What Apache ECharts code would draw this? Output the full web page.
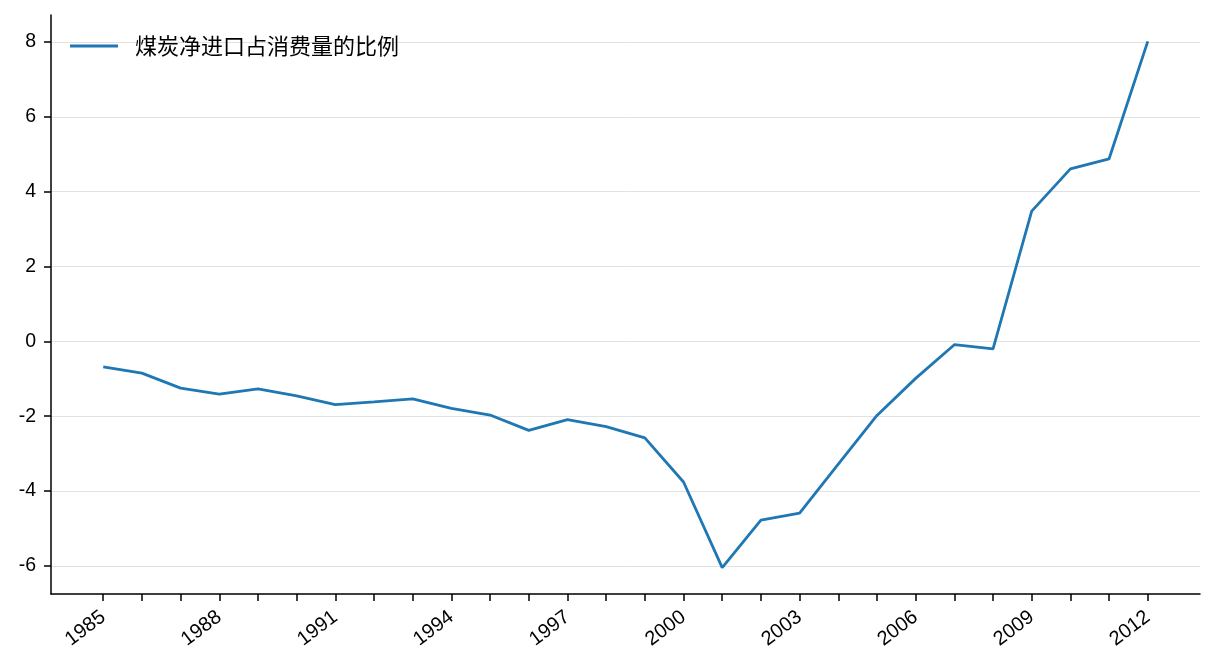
<!DOCTYPE html>
<html>
<head>
<meta charset="utf-8">
<script src="https://cdn.jsdelivr.net/npm/echarts@6/dist/echarts.min.js"></script>
<style>
  html, body { margin: 0; padding: 0; background: #fff; }
  #main { width: 1216px; height: 672px; }
</style>
</head>
<body>
<div id="main"></div>
<script>
// data
var seriesName = '煤炭净进口占消费量的比例';
var years = [1985, 1986, 1987, 1988, 1989, 1990, 1991, 1992, 1993, 1994,
             1995, 1996, 1997, 1998, 1999, 2000, 2001, 2002, 2003, 2004,
             2005, 2006, 2007, 2008, 2009, 2010, 2011, 2012];
var ratio = [-0.68, -0.85, -1.25, -1.41, -1.27, -1.46, -1.69, -1.62, -1.54, -1.79,
             -1.97, -2.38, -2.09, -2.28, -2.58, -3.76, -6.05, -4.78, -4.59, -3.28,
             -1.98, -0.99, -0.09, -0.20, 3.48, 4.61, 4.88, 8.02];
var xLabelYears = [1985, 1988, 1991, 1994, 1997, 2000, 2003, 2006, 2009, 2012];
var yTicks = [-6, -4, -2, 0, 2, 4, 6, 8];

var font = '"Liberation Sans", Arial, "Noto Sans CJK SC", sans-serif';

function Chart(divId) {
	var myChart = echarts.init(document.getElementById(divId));
	var points = [];
	for (var i = 0; i < years.length; i++) {
		points.push([years[i], ratio[i]]);
	}

	// matplotlib style 5% margins
	var xPad = (years[years.length - 1] - years[0]) * 0.05;
	var yMin = Math.min.apply(null, ratio), yMax = Math.max.apply(null, ratio);
	var yPad = (yMax - yMin) * 0.05;

	var option = {
		animation: false,
		grid: { left: 51, right: 16, top: 15, bottom: 78, containLabel: false },
		legend: {
			left: 65, top: 30,
			itemWidth: 48, itemHeight: 22,
			icon: 'path://M0,0 L48,0 L48,3 L0,3 Z',
			textStyle: { fontFamily: '"Noto Sans CJK SC", sans-serif', fontSize: 22, color: '#000', padding: [0, 0, 0, 12] },
			data: [seriesName]
		},
		xAxis: {
			type: 'value',
			min: years[0] - xPad,
			max: years[years.length - 1] + xPad,
			axisLine: { show: true, onZero: false, lineStyle: { color: '#000', width: 1.5 } },
			axisTick: { show: true, length: 7, customValues: years, lineStyle: { color: '#000', width: 1.5 } },
			axisLabel: {
				customValues: xLabelYears, rotate: 37, margin: 21,
				fontFamily: font, fontSize: 20, color: '#000',
				formatter: function (v) { return String(v); }
			},
			splitLine: { show: false }
		},
		yAxis: {
			type: 'value',
			min: yMin - yPad,
			max: yMax + yPad,
			axisLine: { show: true, lineStyle: { color: '#000', width: 1.5 } },
			axisTick: { show: true, length: 7, customValues: yTicks, lineStyle: { color: '#000', width: 1.5 } },
			axisLabel: { customValues: yTicks, margin: 15, fontFamily: font, fontSize: 19.5, color: '#000' },
			splitLine: { show: true, customValues: yTicks, lineStyle: { color: '#e2e2e2', width: 1 } }
		},
		series: [{
			name: seriesName,
			type: 'line',
			data: points,
			showSymbol: false,
			lineStyle: { color: '#1f77b4', width: 2.8 },
			itemStyle: { color: '#1f77b4' }
		}]
	};
	myChart.setOption(option);
}

new Chart('main');
</script>
</body>
</html>
